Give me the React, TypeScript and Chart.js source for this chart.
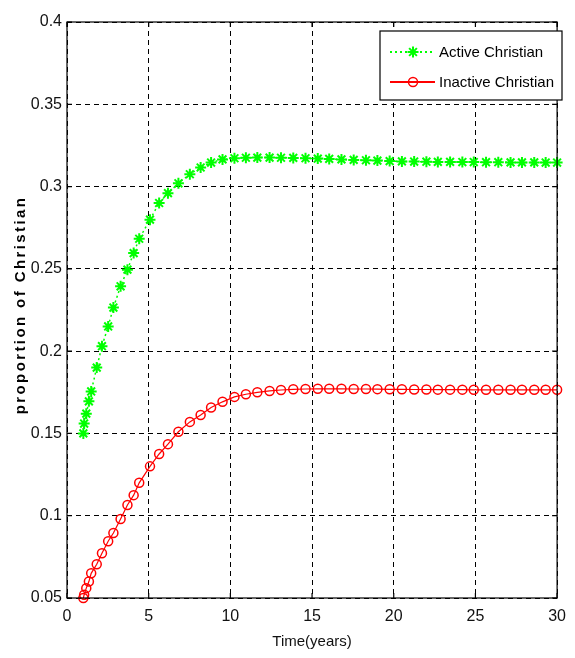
import React, { useEffect, useRef } from 'react';
import { Chart, registerables } from 'chart.js';
import { drawPoint } from 'chart.js/helpers';

Chart.register(...registerables);

// solver output times (years) - markers are denser at the start
const timeYears = [
  1, 1.05, 1.18, 1.34, 1.48, 1.82, 2.14, 2.52, 2.84, 3.28, 3.7, 4.08, 4.42, 5.08, 5.64, 6.18, 6.82, 7.52, 8.18, 8.82, 9.52,
  10.25, 10.95, 11.65, 12.4, 13.1, 13.85, 14.6, 15.35, 16.05, 16.8, 17.55, 18.3, 19.0, 19.75, 20.5, 21.25, 22.0, 22.7,
  23.45, 24.2, 24.9, 25.65, 26.4, 27.15, 27.85, 28.6, 29.3, 30,
];

const activeChristian = [
  0.15, 0.156, 0.162, 0.1695, 0.1755, 0.19, 0.203, 0.215, 0.2265, 0.2394, 0.2495, 0.2596, 0.2683, 0.2799, 0.29, 0.296,
  0.302, 0.3075, 0.3116, 0.3146, 0.3165,
  0.3172, 0.3175, 0.3176, 0.3176, 0.3175, 0.3174, 0.3172, 0.317, 0.3168, 0.3165, 0.3162, 0.316, 0.3158, 0.3155, 0.3153,
  0.3152, 0.3151, 0.315, 0.315, 0.3149, 0.3149, 0.3148, 0.3148, 0.3147, 0.3147, 0.3147, 0.3146, 0.3146,
];

const inactiveChristian = [
  0.05, 0.052, 0.056, 0.06, 0.065, 0.0705, 0.0772, 0.0845, 0.0895, 0.098, 0.1065, 0.1125, 0.12, 0.13, 0.1375, 0.1435,
  0.151, 0.157, 0.1612, 0.1658, 0.1692,
  0.1722, 0.1738, 0.175, 0.1758, 0.1764, 0.1768, 0.177, 0.1771, 0.1771, 0.1771, 0.177, 0.177, 0.1769, 0.1768, 0.1768,
  0.1767, 0.1767, 0.1766, 0.1766, 0.1766, 0.1765, 0.1765, 0.1765, 0.1765, 0.1765, 0.1765, 0.1765, 0.1765,
];

const seriesLabels = ['Active Christian', 'Inactive Christian'];
const xAxisTitle = 'Time(years)';
const yAxisTitle = 'proportion of Christian';

const FONT = "'Liberation Sans Narrow', 'Arial Narrow', 'Liberation Sans', Arial, sans-serif";

// Matlab-like box around the axes with small inward ticks
const frameBox = {
  id: 'frameBox',
  afterDatasetsDraw(chart: Chart) {
    const { ctx, chartArea: a, scales } = chart;
    ctx.save();
    ctx.strokeStyle = '#000';
    ctx.lineWidth = 1.2;
    ctx.setLineDash([]);
    ctx.strokeRect(a.left, a.top, a.right - a.left, a.bottom - a.top);
    ctx.beginPath();
    scales.x.ticks.forEach((t) => {
      const px = scales.x.getPixelForValue(t.value);
      ctx.moveTo(px, a.bottom);
      ctx.lineTo(px, a.bottom - 5);
      ctx.moveTo(px, a.top);
      ctx.lineTo(px, a.top + 5);
    });
    scales.y.ticks.forEach((t) => {
      const py = scales.y.getPixelForValue(t.value);
      ctx.moveTo(a.left, py);
      ctx.lineTo(a.left + 5, py);
      ctx.moveTo(a.right, py);
      ctx.lineTo(a.right - 5, py);
    });
    ctx.stroke();
    ctx.restore();
  },
};

// legend box inside the top-right corner
const boxLegend = {
  id: 'boxLegend',
  afterDraw(chart: Chart) {
    const { ctx } = chart;
    const left = 380;
    const top = 31;
    const w = 182;
    const h = 69;
    ctx.save();
    ctx.fillStyle = '#fff';
    ctx.fillRect(left, top, w, h);
    ctx.strokeStyle = '#000';
    ctx.lineWidth = 1.2;
    ctx.strokeRect(left, top, w, h);

    chart.data.datasets.forEach((ds: any, i: number) => {
      const y = top + 21 + i * 30;
      ctx.save();
      ctx.strokeStyle = ds.borderColor;
      ctx.lineWidth = 2;
      ctx.setLineDash(i === 0 ? [2, 3] : []);
      ctx.beginPath();
      ctx.moveTo(left + 10, y);
      ctx.lineTo(left + 55, y);
      ctx.stroke();
      ctx.restore();
      ctx.save();
      ctx.strokeStyle = ds.pointBorderColor;
      ctx.fillStyle = ds.pointBackgroundColor;
      ctx.lineWidth = ds.pointBorderWidth;
      drawPoint(ctx, { pointStyle: ds.pointStyle, radius: ds.pointRadius, rotation: 0, borderWidth: ds.pointBorderWidth }, left + 33, y);
      ctx.restore();
      ctx.fillStyle = '#000';
      ctx.font = `15px ${FONT}`;
      ctx.textBaseline = 'middle';
      ctx.textAlign = 'left';
      ctx.fillText(ds.label, left + 59, y + 1);
    });
    ctx.restore();
  },
};

// spaced, bold y title as in the reference
const yTitle = {
  id: 'yTitle',
  afterDraw(chart: Chart) {
    const { ctx } = chart;
    ctx.save();
    ctx.translate(21, 305);
    ctx.rotate(-Math.PI / 2);
    ctx.font = `bold 15px ${FONT}`;
    (ctx as any).letterSpacing = '2.4px';
    ctx.fillStyle = '#000';
    ctx.textAlign = 'center';
    ctx.textBaseline = 'middle';
    ctx.fillText(yAxisTitle, 0, 0);
    ctx.restore();
  },
};

export default function App() {
  const canvasRef = useRef<HTMLCanvasElement>(null);
  const chartRef = useRef<Chart | null>(null);

  useEffect(() => {
    if (!canvasRef.current) return;
    if (chartRef.current) chartRef.current.destroy();

    const gridStyle = { color: '#000', lineWidth: 1, drawTicks: false };
    const borderStyle = { display: false, dash: [5, 4] };

    chartRef.current = new Chart(canvasRef.current, {
      type: 'line',
      data: {
        datasets: [
          {
            label: seriesLabels[0],
            data: timeYears.map((t, i) => ({ x: t, y: activeChristian[i] })),
            borderColor: '#00ff00',
            borderWidth: 1.5,
            borderDash: [2, 3],
            pointStyle: 'star',
            pointRadius: 5.5,
            pointBorderWidth: 2,
            pointBorderColor: '#00ff00',
            pointBackgroundColor: '#00ff00',
            tension: 0,
            clip: false,
          },
          {
            label: seriesLabels[1],
            data: timeYears.map((t, i) => ({ x: t, y: inactiveChristian[i] })),
            borderColor: '#ff0000',
            borderWidth: 1.2,
            pointStyle: 'circle',
            pointRadius: 4.5,
            pointBorderWidth: 1.5,
            pointBorderColor: '#ff0000',
            pointBackgroundColor: 'rgba(0,0,0,0)',
            tension: 0,
            clip: false,
          },
        ],
      },
      options: {
        responsive: false,
        animation: false,
        devicePixelRatio: 1,
        layout: { padding: { left: 0, right: 8, top: 22, bottom: 0 } },
        plugins: {
          legend: { display: false },
          tooltip: { enabled: false },
        },
        scales: {
          x: {
            type: 'linear',
            min: 0,
            max: 30,
            ticks: {
              stepSize: 5,
              color: '#111',
              padding: 9,
              font: { family: FONT, size: 16 },
              maxRotation: 0,
            },
            grid: gridStyle,
            border: borderStyle,
            title: {
              display: true,
              text: xAxisTitle,
              color: '#111',
              font: { family: FONT, size: 15 },
              padding: { top: 0, bottom: 7 },
            },
            afterFit: (s: any) => {
              s.height = 60;
            },
          },
          y: {
            type: 'linear',
            min: 0.05,
            max: 0.4,
            ticks: {
              stepSize: 0.05,
              color: '#111',
              padding: 5,
              font: { family: FONT, size: 16 },
              callback: (v: any) => String(Number(Number(v).toFixed(2))),
            },
            grid: gridStyle,
            border: borderStyle,
            afterFit: (s: any) => {
              s.width = 67;
            },
          },
        },
      },
      plugins: [frameBox, boxLegend, yTitle],
    });

    return () => {
      if (chartRef.current) {
        chartRef.current.destroy();
        chartRef.current = null;
      }
    };
  }, []);

  return (
    <div style={{ position: 'fixed', left: 0, top: 0, width: 575, height: 658, background: '#fff' }}>
      <canvas ref={canvasRef} width={575} height={658}></canvas>
    </div>
  );
}
